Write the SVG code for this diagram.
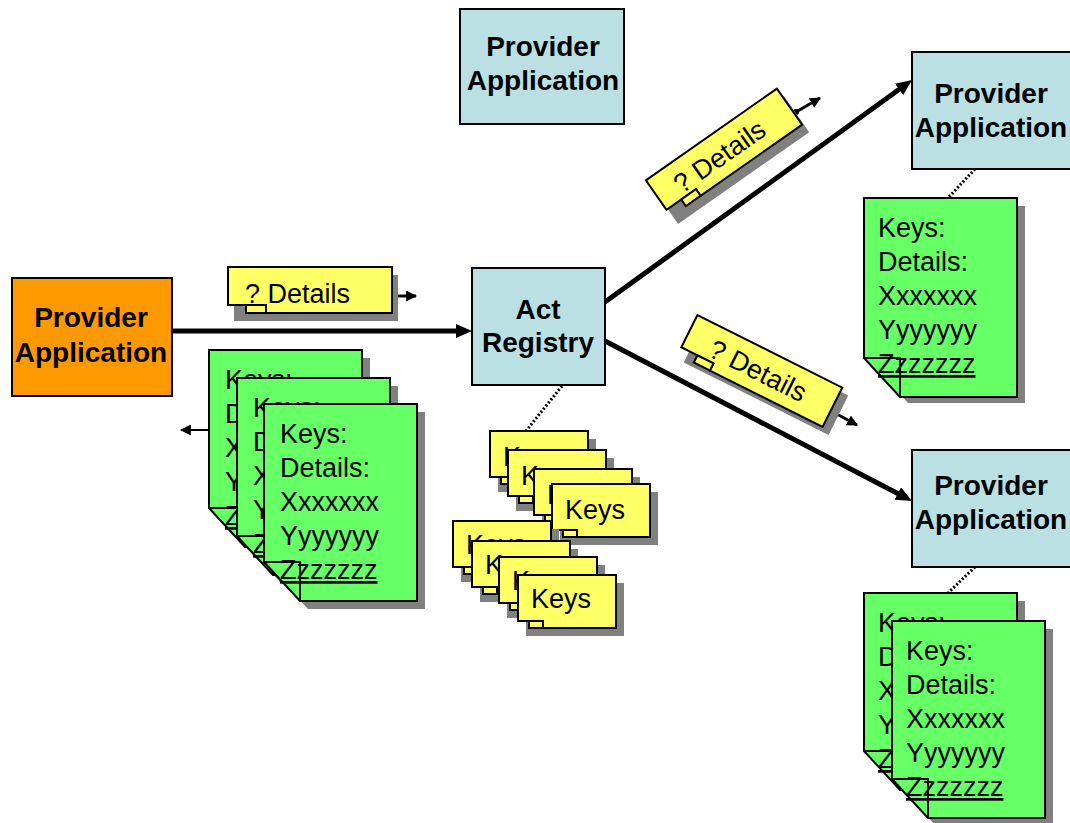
<svg xmlns="http://www.w3.org/2000/svg" width="1070" height="823" viewBox="0 0 1070 823">
<defs>
<style>
.pb{fill:#BBE0E3;stroke:#000;stroke-width:2}
.po{fill:#FF9900;stroke:#000;stroke-width:2}
.pt{font-family:"Liberation Sans",Arial,sans-serif;font-weight:bold;font-size:28px;text-anchor:middle;fill:#000}
.doc{fill:#66FF66;stroke:#000;stroke-width:2}
.sh{fill:#808080;stroke:none}
.fl{fill:none;stroke:#000;stroke-width:2}
.dt{font-family:"Liberation Sans",Arial,sans-serif;font-size:27px;fill:#000}
.yn{fill:#FFFF66;stroke:#000;stroke-width:2}
.nt{font-family:"Liberation Sans",Arial,sans-serif;font-size:27px;fill:#000}
.big{stroke:#000;stroke-width:5;fill:none}
.sm{stroke:#000;stroke-width:3;fill:none}
.dash{stroke:#000;stroke-width:3;stroke-dasharray:2 2;fill:none}
</style>
<marker id="ah" markerUnits="userSpaceOnUse" viewBox="0 0 16 14" refX="2" refY="7" markerWidth="16" markerHeight="14" orient="auto"><path d="M0,0 L16,7 L0,14 Z" fill="#000"/></marker>
<marker id="as" markerUnits="userSpaceOnUse" viewBox="0 0 10 10" refX="9" refY="5" markerWidth="11" markerHeight="11" orient="auto"><path d="M0,0 L10,5 L0,10 Z" fill="#000"/></marker>
</defs>
<rect width="1070" height="823" fill="#fff"/>

<g id="connectors">
<line class="big" x1="172" y1="331" x2="458" y2="331" marker-end="url(#ah)"/>
<line class="big" x1="605" y1="302" x2="900.7" y2="88.2" marker-end="url(#ah)"/>
<line class="big" x1="605" y1="341" x2="899.6" y2="494.5" marker-end="url(#ah)"/>
<line class="dash" x1="562" y1="386" x2="526" y2="431"/>
<line class="dash" x1="975" y1="169" x2="948" y2="198"/>
<line class="dash" x1="975" y1="567" x2="948" y2="593"/>
<line class="sm" x1="392" y1="296" x2="416" y2="296" marker-end="url(#as)"/>
<circle cx="392" cy="296" r="3" fill="#000"/>
<line class="sm" x1="796" y1="112" x2="820" y2="98" marker-end="url(#as)"/>
<circle cx="796" cy="112" r="3" fill="#000"/>
<line class="sm" x1="833" y1="412" x2="857" y2="425" marker-end="url(#as)"/>
<circle cx="833" cy="412" r="3" fill="#000"/>
<line class="sm" style="stroke-width:2" x1="209" y1="430" x2="181" y2="430" marker-end="url(#as)"/>
</g>

<g id="provider-orange">
<rect class="po" x="12" y="278" width="160" height="118"/>
<text class="pt" x="91" y="327">Provider</text>
<text class="pt" x="91" y="362">Application</text>
</g>

<g id="provider-top">
<rect class="pb" x="460" y="9" width="164" height="115"/>
<text class="pt" x="543" y="56">Provider</text>
<text class="pt" x="543" y="90">Application</text>
</g>

<g id="act-registry">
<rect class="pb" x="472" y="268" width="133" height="117"/>
<text class="pt" x="538" y="319">Act</text>
<text class="pt" x="538" y="352">Registry</text>
</g>

<g id="provider-right-top">
<rect class="pb" x="912" y="52" width="162" height="117"/>
<text class="pt" x="991" y="103">Provider</text>
<text class="pt" x="991" y="137">Application</text>
</g>

<g id="provider-right-bottom">
<rect class="pb" x="912" y="450" width="162" height="117"/>
<text class="pt" x="991" y="495">Provider</text>
<text class="pt" x="991" y="529">Application</text>
</g>

<g id="note-details-left" transform="translate(228,267)">
<path class="sh" d="M6,8 H170 V54 H6 Z"/>
<path class="yn" d="M0,0 H164 V46 H38 V38 H0 Z"/>
<rect class="yn" x="18" y="38" width="20" height="8"/>
<text class="nt" x="17" y="36">? Details</text>
</g>

<g id="note-details-top">
<path class="sh" transform="translate(731,160) rotate(-35)" d="M-80,-22 H80 V22 H-80 Z"/>
<g transform="translate(724,152.5) rotate(-35)">
<path class="yn" d="M-80,-22 H80 V22 H-44 V14 H-80 Z"/>
<rect class="yn" x="-62" y="14" width="18" height="8"/>
<text class="nt" x="-6" y="10" text-anchor="middle">? Details</text>
</g>
</g>

<g id="note-details-middle">
<path class="sh" transform="translate(766,379) rotate(26.6)" d="M-81,-22 H81 V22 H-81 Z"/>
<g transform="translate(760,371) rotate(26.6)">
<path class="yn" d="M-81,-22 H81 V22 H-45 V14 H-81 Z"/>
<rect class="yn" x="-63" y="14" width="18" height="8"/>
<text class="nt" x="-2" y="10" text-anchor="middle">? Details</text>
</g>
</g>

<g id="docs-left">
<g transform="translate(209,350)">
<path class="sh" d="M8,8 H161 V205 H44 L8,166 Z"/>
<path class="doc" d="M0,0 H153 V197 H36 L0,158 Z"/>
<path class="fl" d="M0,158 H36 V197"/>
<text class="dt" x="16" y="39">Keys:</text><text class="dt" x="16" y="73">Details:</text><text class="dt" x="16" y="107">Xxxxxxx</text><text class="dt" x="16" y="141">Yyyyyyy</text><text class="dt" x="16" y="175" text-decoration="underline">Zzzzzzz</text>
</g>
<g transform="translate(237,378)">
<path class="sh" d="M8,8 H161 V205 H44 L8,166 Z"/>
<path class="doc" d="M0,0 H153 V197 H36 L0,158 Z"/>
<path class="fl" d="M0,158 H36 V197"/>
<text class="dt" x="16" y="39">Keys:</text><text class="dt" x="16" y="73">Details:</text><text class="dt" x="16" y="107">Xxxxxxx</text><text class="dt" x="16" y="141">Yyyyyyy</text><text class="dt" x="16" y="175" text-decoration="underline">Zzzzzzz</text>
</g>
<g transform="translate(264,404)">
<path class="sh" d="M8,8 H161 V205 H44 L8,166 Z"/>
<path class="doc" d="M0,0 H153 V197 H36 L0,158 Z"/>
<path class="fl" d="M0,158 H36 V197"/>
<text class="dt" x="16" y="39">Keys:</text><text class="dt" x="16" y="73">Details:</text><text class="dt" x="16" y="107">Xxxxxxx</text><text class="dt" x="16" y="141">Yyyyyyy</text><text class="dt" x="16" y="175" text-decoration="underline">Zzzzzzz</text>
</g>
</g>

<g id="doc-right-top" transform="translate(864,198)">
<path class="sh" d="M8,8 H161 V205 H44 L8,166 Z"/>
<path class="doc" d="M0,0 H153 V199 H36 L0,160 Z"/>
<path class="fl" d="M0,160 H36 V199"/>
<text class="dt" x="14" y="39">Keys:</text><text class="dt" x="14" y="73">Details:</text><text class="dt" x="14" y="107">Xxxxxxx</text><text class="dt" x="14" y="141">Yyyyyyy</text><text class="dt" x="14" y="175" text-decoration="underline">Zzzzzzz</text>
</g>

<g id="docs-right-bottom">
<g transform="translate(864,593)">
<path class="sh" d="M8,8 H161 V205 H44 L8,166 Z"/>
<path class="doc" d="M0,0 H153 V197 H36 L0,158 Z"/>
<path class="fl" d="M0,158 H36 V197"/>
<text class="dt" x="14" y="39">Keys:</text><text class="dt" x="14" y="73">Details:</text><text class="dt" x="14" y="107">Xxxxxxx</text><text class="dt" x="14" y="141">Yyyyyyy</text><text class="dt" x="14" y="175" text-decoration="underline">Zzzzzzz</text>
</g>
<g transform="translate(892,621)">
<path class="sh" d="M8,8 H161 V205 H44 L8,166 Z"/>
<path class="doc" d="M0,0 H153 V197 H36 L0,158 Z"/>
<path class="fl" d="M0,158 H36 V197"/>
<text class="dt" x="14" y="39">Keys:</text><text class="dt" x="14" y="73">Details:</text><text class="dt" x="14" y="107">Xxxxxxx</text><text class="dt" x="14" y="141">Yyyyyyy</text><text class="dt" x="14" y="175" text-decoration="underline">Zzzzzzz</text>
</g>
</g>

<g id="keys-notes">
<g transform="translate(490,431)"><path class="sh" d="M8,8 H106 V61 H8 Z"/><path class="yn" d="M0,0 H98 V53 H25 V46 H0 Z"/><rect class="yn" x="11" y="46" width="14" height="7"/><text class="nt" x="13" y="35">Keys</text></g>
<g transform="translate(508,450)"><path class="sh" d="M8,8 H106 V61 H8 Z"/><path class="yn" d="M0,0 H98 V53 H25 V46 H0 Z"/><rect class="yn" x="11" y="46" width="14" height="7"/><text class="nt" x="13" y="35">Keys</text></g>
<g transform="translate(534,469)"><path class="sh" d="M8,8 H106 V61 H8 Z"/><path class="yn" d="M0,0 H98 V53 H25 V46 H0 Z"/><rect class="yn" x="11" y="46" width="14" height="7"/><text class="nt" x="13" y="35">Keys</text></g>
<g transform="translate(552,484)"><path class="sh" d="M8,8 H106 V61 H8 Z"/><path class="yn" d="M0,0 H98 V53 H25 V46 H0 Z"/><rect class="yn" x="11" y="46" width="14" height="7"/><text class="nt" x="13" y="35">Keys</text></g>
<g transform="translate(453,521)"><path class="sh" d="M8,8 H106 V61 H8 Z"/><path class="yn" d="M0,0 H98 V53 H25 V46 H0 Z"/><rect class="yn" x="11" y="46" width="14" height="7"/><text class="nt" x="13" y="33">Keys</text></g>
<g transform="translate(472,541)"><path class="sh" d="M8,8 H106 V61 H8 Z"/><path class="yn" d="M0,0 H98 V53 H25 V46 H0 Z"/><rect class="yn" x="11" y="46" width="14" height="7"/><text class="nt" x="13" y="33">Keys</text></g>
<g transform="translate(499,557)"><path class="sh" d="M8,8 H106 V61 H8 Z"/><path class="yn" d="M0,0 H98 V53 H25 V46 H0 Z"/><rect class="yn" x="11" y="46" width="14" height="7"/><text class="nt" x="13" y="33">Keys</text></g>
<g transform="translate(518,575)"><path class="sh" d="M8,8 H106 V61 H8 Z"/><path class="yn" d="M0,0 H98 V53 H25 V46 H0 Z"/><rect class="yn" x="11" y="46" width="14" height="7"/><text class="nt" x="13" y="33">Keys</text></g>
</g>
</svg>
